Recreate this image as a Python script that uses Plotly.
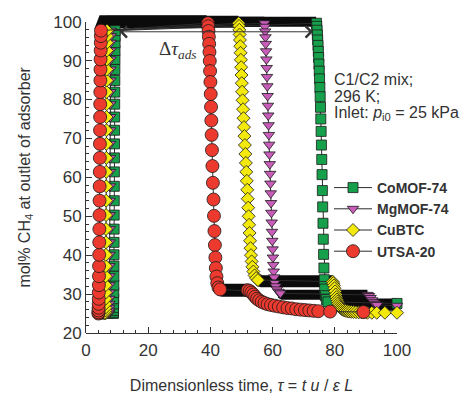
import plotly.graph_objects as go

# ---------------- data ----------------
names = ["CoMOF-74", "MgMOF-74", "CuBTC", "UTSA-20"]

# CoMOF-74 (green squares): visible marker points
como_x = [8.80, 8.82, 8.84, 8.86, 8.88, 8.90, 8.92, 8.94, 8.96, 8.98, 9.00, 9.02, 9.04, 9.06, 9.08,
          9.10, 9.12, 9.14, 9.16, 9.18, 9.20, 9.22, 9.24, 9.26, 9.28, 9.30, 9.32, 9.34, 9.36, 9.38,
          74.1, 74.2, 74.3, 74.4, 74.5, 74.6, 74.7, 74.8, 74.9, 75.0, 75.1, 75.2, 75.3, 75.4, 75.5,
          75.6, 75.7, 75.8, 75.9, 76.0, 76.1, 76.2, 76.3, 76.4, 76.5, 76.6, 76.75, 76.95, 77.3, 77.8,
          100.0]
como_y = [25.0, 25.3, 25.8, 26.5, 27.5, 28.8, 30.4, 32.3, 34.6, 37.2, 40.1, 43.3, 46.7, 50.3, 54.0,
          57.7, 61.4, 65.0, 68.6, 72.1, 75.5, 78.8, 81.9, 84.9, 87.7, 90.3, 92.6, 94.6, 96.3, 97.7,
          99.6, 98.8, 97.8, 96.6, 95.3, 93.9, 92.4, 90.8, 89.1, 87.3, 85.3, 83.1, 80.7, 78.0, 75.0,
          71.8, 68.3, 64.6, 60.7, 56.6, 52.4, 48.2, 44.1, 40.2, 36.7, 33.7, 31.3, 29.6, 28.6, 28.0,
          27.6]
# dense (overlapping) plateau stretches, drawn as black bands
como_band_x = [4.0, 8.8, None, 9.25, 9.6, 10.2, 74.0, None, 77.8, 78.8, 100.0]
como_band_y = [25.0, 25.0, None, 98.8, 99.8, 100.0, 100.0, None, 28.0, 27.6, 27.6]

# MgMOF-74 (magenta down-triangles)
mgmof_x = [7.40, 7.42, 7.44, 7.46, 7.48, 7.50, 7.52, 7.54, 7.56, 7.58, 7.60, 7.62, 7.64, 7.66, 7.68,
           7.70, 7.72, 7.74, 7.76, 7.78, 7.80, 7.82, 7.84, 7.86, 7.88, 7.90, 7.92, 7.94, 7.96, 7.98,
           57.4, 57.5, 57.6, 57.7, 57.8, 57.9, 58.0, 58.1, 58.2, 58.3, 58.4, 58.5, 58.6, 58.7, 58.8,
           58.9, 59.0, 59.1, 59.2, 59.3, 59.4, 59.5, 59.6, 59.7, 59.8, 59.9, 60.0, 60.1, 60.2, 60.35,
           60.5, 60.7, 61.0, 61.4, 61.9, 62.5,
           90.5, 91.0, 91.5, 92.0, 92.5, 93.0, 93.6, 100.0]
mgmof_y = [25.0, 25.3, 25.8, 26.5, 27.5, 28.8, 30.4, 32.3, 34.6, 37.2, 40.1, 43.3, 46.7, 50.3, 54.0,
           57.7, 61.4, 65.0, 68.6, 72.1, 75.5, 78.8, 81.9, 84.9, 87.7, 90.3, 92.6, 94.6, 96.3, 97.7,
           99.6, 98.7, 97.5, 96.0, 94.3, 92.4, 90.3, 88.1, 85.8, 83.4, 80.9, 78.4, 75.9, 73.4, 70.9,
           68.4, 65.9, 63.4, 60.9, 58.4, 55.9, 53.4, 50.9, 48.4, 46.0, 43.7, 41.5, 39.4, 37.5, 35.8,
           34.3, 33.0, 32.0, 31.2, 30.6, 30.2,
           29.8, 29.5, 29.0, 28.4, 27.9, 27.5, 27.2, 27.0]
mgmof_band_x = [4.0, 7.4, None, 7.85, 8.2, 8.8, 57.3, None, 62.5, 63.3, 90.5, None, 93.6, 94.5, 100.0]
mgmof_band_y = [25.0, 25.0, None, 98.8, 99.8, 100.0, 100.0, None, 30.2, 29.8, 29.8, None, 27.2, 27.0, 27.0]

# CuBTC (yellow diamonds)
cubtc_x = [6.20, 6.22, 6.24, 6.26, 6.28, 6.30, 6.32, 6.34, 6.36, 6.38, 6.40, 6.42, 6.44, 6.46, 6.48,
           6.50, 6.52, 6.54, 6.56, 6.58, 6.60, 6.62, 6.64, 6.66, 6.68, 6.70, 6.72, 6.74, 6.76, 6.78,
           49.1, 49.2, 49.3, 49.4, 49.5, 49.6, 49.7, 49.8, 49.9, 50.0, 50.1, 50.2, 50.35, 50.5, 50.65,
           50.8, 50.95, 51.1, 51.25, 51.4, 51.55, 51.7, 51.85, 52.0, 52.15, 52.3, 52.45, 52.6, 52.75, 52.9,
           53.05, 53.25, 53.5, 53.8, 54.2, 54.7, 55.3,
           79.3, 79.5, 79.7, 79.9, 80.1, 80.3, 80.5, 80.7, 80.9, 81.1, 81.35, 81.6, 81.9, 82.2, 82.6,
           83.0, 83.5, 84.0, 84.6, 85.3, 86.0, 86.8, 87.7, 88.6, 89.5, 90.5, 91.9, 93.5, 96.1, 100.0]
cubtc_y = [25.0, 25.3, 25.8, 26.5, 27.5, 28.8, 30.4, 32.3, 34.6, 37.2, 40.1, 43.3, 46.7, 50.3, 54.0,
           57.7, 61.4, 65.0, 68.6, 72.1, 75.5, 78.8, 81.9, 84.9, 87.7, 90.3, 92.6, 94.6, 96.3, 97.7,
           99.6, 98.9, 97.9, 96.7, 95.3, 93.7, 92.0, 90.2, 88.3, 86.3, 84.2, 82.0, 79.8, 77.5, 75.2,
           72.9, 70.6, 68.3, 66.0, 63.7, 61.4, 59.1, 56.8, 54.5, 52.2, 50.0, 47.8, 45.7, 43.7, 41.8,
           40.0, 38.4, 37.0, 35.8, 34.8, 34.1, 33.6,
           33.2, 32.8, 32.2, 31.5, 30.7, 29.9, 29.2, 28.6, 28.1, 27.6, 27.2, 26.8, 26.5, 26.2, 26.0,
           25.8, 25.7, 25.6, 25.5, 25.45, 25.4, 25.35, 25.3, 25.3, 25.25, 25.2, 25.2, 25.2, 25.2, 25.2]
cubtc_band_x = [4.0, 6.2, None, 6.7, 7.0, 7.6, 49.0, None, 55.3, 56.5, 79.3]
cubtc_band_y = [25.0, 25.0, None, 98.8, 99.8, 100.0, 100.0, None, 33.6, 33.3, 33.3]

# UTSA-20 (red circles)
utsa_x = [4.00, 4.02, 4.04, 4.06, 4.08, 4.10, 4.12, 4.15, 4.18, 4.21, 4.24, 4.27, 4.30, 4.33, 4.36,
          4.39, 4.42, 4.45, 4.48, 4.51, 4.54, 4.57, 4.60, 4.63, 4.66, 4.69, 4.72, 4.75, 4.78, 4.81,
          39.2, 39.3, 39.4, 39.5, 39.6, 39.7, 39.8, 39.9, 40.0, 40.1, 40.2, 40.3, 40.4, 40.5, 40.65,
          40.8, 41.0, 41.15, 41.3, 41.45, 41.6, 41.75, 41.95, 42.2, 42.6, 43.1,
          52.0, 52.6, 53.2, 53.8, 54.4, 55.0, 55.7, 56.5, 57.4, 58.4, 59.5, 60.7, 62.0, 63.4, 64.8,
          66.2, 67.6, 69.0, 70.4, 71.8, 73.2, 74.7, 78.5, 89.2]
utsa_y = [25.0, 25.3, 25.8, 26.5, 27.5, 28.8, 30.4, 32.3, 34.6, 37.2, 40.1, 43.3, 46.7, 50.3, 54.0,
          57.7, 61.4, 65.0, 68.6, 72.1, 75.5, 78.8, 81.9, 84.9, 87.7, 90.3, 92.6, 94.6, 96.3, 97.7,
          99.6, 98.8, 97.6, 96.1, 94.3, 92.2, 89.9, 87.3, 84.5, 81.4, 78.1, 74.6, 70.9, 67.0, 62.9,
          58.6, 54.3, 50.1, 46.2, 42.6, 39.4, 36.7, 34.5, 32.8, 31.7, 31.2,
          31.0, 30.8, 30.4, 29.9, 29.3, 28.8, 28.4, 28.0, 27.7, 27.4, 27.2, 27.0, 26.8, 26.6, 26.4,
          26.3, 26.1, 26.0, 25.9, 25.8, 25.7, 25.6, 25.5, 25.4]
utsa_band_x = [4.65, 4.8, 5.2, 5.8, 38.8, None, 43.1, 44.0, 52.0]
utsa_band_y = [97.6, 99.2, 99.8, 100.0, 100.0, None, 31.2, 31.0, 31.0]

# axis ticks
x_ticks = [0, 20, 40, 60, 80, 100]
y_ticks = [20, 30, 40, 50, 60, 70, 80, 90, 100]

# ---------------- styling ----------------
TXT = "#333333"
FONT = "Liberation Sans, Arial, sans-serif"
colors = ["#17a04b", "#c75cb9", "#f4e90c", "#ec3a2f"]
symbols = ["square", "triangle-down", "diamond", "circle"]
sizes = [10, 10, 10, 13]
band_widths = [10, 10, 12, 13]

series_x = [como_x, mgmof_x, cubtc_x, utsa_x]
series_y = [como_y, mgmof_y, cubtc_y, utsa_y]
bands_x = [como_band_x, mgmof_band_x, cubtc_band_x, utsa_band_x]
bands_y = [como_band_y, mgmof_band_y, cubtc_band_y, utsa_band_y]

fig = go.Figure()

for bx, by, w in zip(bands_x, bands_y, band_widths):
    fig.add_trace(go.Scatter(x=bx, y=by, mode="lines", showlegend=False, hoverinfo="skip",
                             line=dict(color="#0b0b0b", width=w), connectgaps=False))

for name, xs, ys, col, sym, sz in zip(names, series_x, series_y, colors, symbols, sizes):
    fig.add_trace(go.Scatter(
        x=xs, y=ys, name=name, mode="lines+markers", cliponaxis=False,
        line=dict(color="#2a2a2a", width=1),
        marker=dict(symbol=sym, color=col, size=sz, line=dict(color="#1a1a1a", width=0.8)),
    ))

# empty trace to attach the displayed y axis
fig.add_trace(go.Scatter(x=[], y=[], xaxis="x", yaxis="y2", showlegend=False, hoverinfo="skip"))

Y_TOP = 103.0
fig.update_layout(
    width=466, height=395,
    margin=dict(l=86, r=69, t=10, b=62, autoexpand=False),
    paper_bgcolor="white", plot_bgcolor="rgba(0,0,0,0)",
    font=dict(family=FONT, color=TXT),
    xaxis=dict(range=[0, 100], anchor="y", showline=True, linecolor="#333", linewidth=1,
               automargin=False, ticklabelstandoff=2,
               ticks="inside", ticklen=6, tickcolor="#333", tickvals=x_ticks,
               tickfont=dict(size=17, color=TXT), showgrid=False, zeroline=False,
               minor=dict(dtick=4, tick0=0, ticks="inside", ticklen=3, tickcolor="#333"),
               title=dict(text="Dimensionless time, <i>τ</i> = <i>t u</i> / <i>ε L</i>",
                          font=dict(size=16, color=TXT), standoff=20)),
    yaxis=dict(range=[20, Y_TOP], domain=[0, 1], visible=False, showgrid=False, zeroline=False,
               automargin=False),
    yaxis2=dict(range=[20, 100], domain=[0, 80.0 / (Y_TOP - 20)], anchor="x", automargin=False,
                showline=True, linecolor="#333", linewidth=1, ticks="inside", ticklen=6,
                tickcolor="#333", tickvals=y_ticks, tickfont=dict(size=17, color=TXT),
                showgrid=False, zeroline=False,
                minor=dict(dtick=2, tick0=20, ticks="inside", ticklen=3, tickcolor="#333"),
                title=dict(text="mol% CH<sub>4</sub> at outlet of adsorber",
                           font=dict(size=16, color=TXT), standoff=18)),
    legend=dict(x=(329 - 86) / 311, y=(333 - 172) / 323, xanchor="left", yanchor="top",
                bgcolor="rgba(0,0,0,0)", itemwidth=38,
                font=dict(size=14, color=TXT, family="Liberation Sans, Arial, sans-serif", weight="bold")),
    showlegend=True,
)

# double-headed arrow for Δτ_ads
fig.add_annotation(x=73.0, y=97.4, ax=10.3, ay=97.4, xref="x", yref="y", axref="x", ayref="y",
                   text="", showarrow=True, arrowside="end+start", arrowhead=4, arrowsize=2.2,
                   arrowwidth=1, arrowcolor="#333")
fig.add_annotation(x=29.6, y=92.8, xref="x", yref="y", showarrow=False,
                   text="Δ<i>τ</i><sub><i>ads</i></sub>",
                   font=dict(family="Liberation Serif, Times New Roman, serif", size=19, color=TXT))

info_lines = ["C1/C2 mix;", "296 K;", "Inlet: <i>p</i><sub>i0</sub> = 25 kPa"]
info_y = [85.1, 80.7, 76.3]
for t, yy in zip(info_lines, info_y):
    fig.add_annotation(x=79.0, y=yy, xref="x", yref="y", xanchor="left", yanchor="middle",
                       showarrow=False, text=t, font=dict(size=16, color=TXT))

fig.write_html("out.html")
